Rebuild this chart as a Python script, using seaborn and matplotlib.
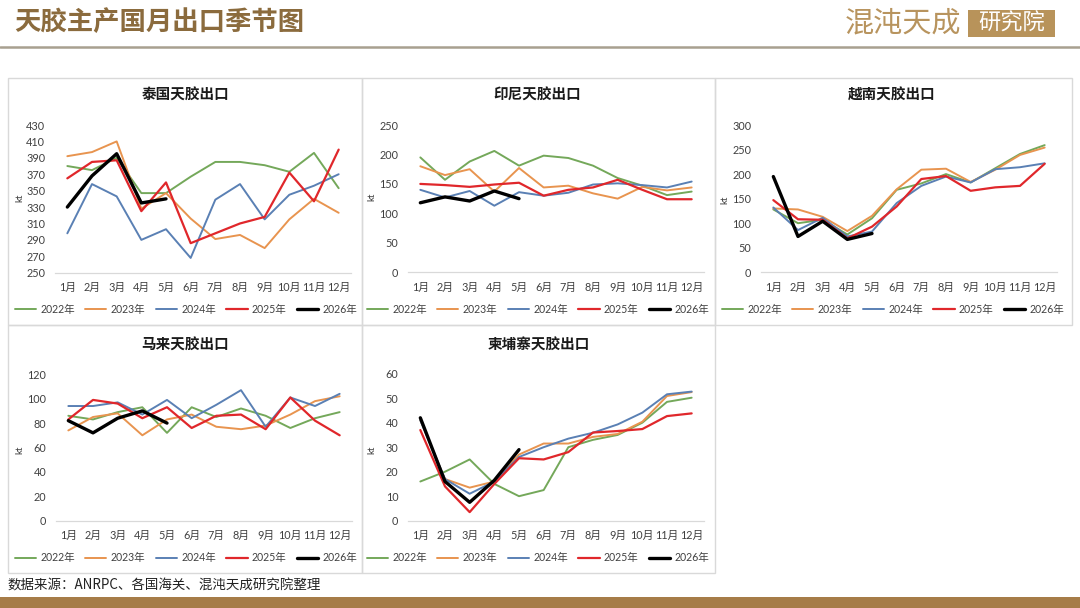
import numpy as np
import pandas as pd
import matplotlib
matplotlib.use("Agg")
import matplotlib.pyplot as plt
from matplotlib.patches import Rectangle
import seaborn as sns

# ---------------- data ----------------
months = ["1月", "2月", "3月", "4月", "5月", "6月", "7月", "8月", "9月", "10月", "11月", "12月"]
years = ["2022年", "2023年", "2024年", "2025年", "2026年"]

thai_2022 = [380, 375, 390, 347, 347, 367, 385, 385, 381, 373, 396, 353]
thai_2023 = [392, 397, 410, 328, 347, 316, 291, 296, 280, 315, 340, 323]
thai_2024 = [298, 358, 343, 290, 303, 268, 339, 358, 315, 345, 356, 370]
thai_2025 = [365, 385, 387, 325, 360, 286, 298, 310, 318, 372, 337, 400]
thai_2026 = [330, 368, 395, 335, 340]

indo_2022 = [195, 157, 188, 206, 181, 198, 194, 181, 160, 147, 131, 137]
indo_2023 = [180, 165, 175, 137, 177, 144, 147, 134, 125, 145, 139, 144]
indo_2024 = [140, 127, 138, 113, 136, 130, 135, 149, 151, 148, 144, 154]
indo_2025 = [150, 148, 145, 149, 152, 130, 140, 144, 157, 140, 124, 124]
indo_2026 = [118, 128, 121, 138, 125]

viet_2022 = [128, 100, 107, 77, 110, 168, 181, 200, 183, 212, 241, 259]
viet_2023 = [130, 128, 113, 84, 115, 169, 209, 211, 184, 209, 239, 254]
viet_2024 = [132, 86, 111, 73, 83, 141, 176, 195, 183, 210, 214, 222]
viet_2025 = [147, 108, 107, 69, 93, 134, 190, 196, 166, 173, 176, 221]
viet_2026 = [195, 73, 104, 67, 79]

mal_2022 = [86, 83, 89, 93, 72, 93, 85, 92, 86, 76, 84, 89]
mal_2023 = [74, 85, 88, 70, 83, 87, 77, 75, 78, 87, 98, 102]
mal_2024 = [94, 94, 97, 87, 99, 84, 95, 107, 77, 101, 94, 104]
mal_2025 = [83, 99, 96, 84, 93, 76, 86, 87, 75, 101, 82, 70]
mal_2026 = [82, 72, 84, 90, 80]

cam_2022 = [16, 20, 25, 15, 10, 12.5, 30, 33, 35, 40, 48.5, 50.2]
cam_2023 = [41, 17, 13.5, 16, 27, 31.5, 31.5, 34.2, 35.4, 40.4, 50.9, 52.5]
cam_2024 = [41, 17, 11, 16, 26, 30, 33.5, 35.9, 39.3, 44.1, 51.6, 52.7]
cam_2025 = [37, 14, 3.5, 15, 25.5, 25, 28, 36, 36.6, 37.4, 42.7, 43.8]
cam_2026 = [42, 16, 7.5, 16.5, 29]

panel_titles = ["泰国天胶出口", "印尼天胶出口", "越南天胶出口", "马来天胶出口", "柬埔寨天胶出口"]
panel_series = [
    [thai_2022, thai_2023, thai_2024, thai_2025, thai_2026],
    [indo_2022, indo_2023, indo_2024, indo_2025, indo_2026],
    [viet_2022, viet_2023, viet_2024, viet_2025, viet_2026],
    [mal_2022, mal_2023, mal_2024, mal_2025, mal_2026],
    [cam_2022, cam_2023, cam_2024, cam_2025, cam_2026],
]
panel_yticks = [
    list(range(250, 431, 20)),
    list(range(0, 251, 50)),
    list(range(0, 301, 50)),
    list(range(0, 121, 20)),
    list(range(0, 61, 10)),
]

colors = ["#74A85A", "#E8944F", "#5A80B4", "#E0272B", "#000000"]
widths = [1.4, 1.4, 1.4, 1.6, 2.4]

# ---------------- figure ----------------
sns.set_theme(style="white")
plt.rcParams["font.family"] = ["Lato", "Noto Sans CJK SC", "DejaVu Sans"]

W, H = 1080, 608
fig = plt.figure(figsize=(W / 100, H / 100), dpi=100)
fig.patch.set_facecolor("white")


def fx(px):
    return px / W


def fy(py):
    return 1 - py / H


# header
fig.text(fx(14), fy(22), "天胶主产国月出口季节图", fontsize=19, color="#8B6B3D",
         fontweight="bold", family=["Noto Sans CJK SC"], va="center", ha="left")
fig.text(fx(845), fy(23), "混沌天成", fontsize=21, color="#B8945E",
         family=["Noto Sans CJK SC"], va="center", ha="left")
fig.add_artist(Rectangle((fx(968), fy(37)), fx(1055) - fx(968), fy(10) - fy(37),
                         transform=fig.transFigure, facecolor="#B8935A", edgecolor="none"))
fig.text(fx(1011.5), fy(23.5), "研究院", fontsize=16, color="white",
         family=["Noto Sans CJK SC"], va="center", ha="center")
fig.add_artist(plt.Line2D([0, 1], [fy(47), fy(47)], color="#A8A090", lw=1.8))

# footer
fig.text(fx(8), fy(586), "数据来源：ANRPC、各国海关、混沌天成研究院整理", fontsize=9.7,
         color="#222222", family=["Noto Sans CJK SC"], va="center", ha="left")
fig.add_artist(Rectangle((0, 0), 1, fy(597), transform=fig.transFigure,
                         facecolor="#A67C48", edgecolor="none"))

# panel boxes (left, top, right, bottom px)
boxes = [(8, 78, 362, 325), (362, 78, 715, 325), (715, 78, 1072, 325),
         (8, 325, 362, 573), (362, 325, 715, 573)]
for (l, t, r, b) in boxes:
    fig.add_artist(Rectangle((fx(l), fy(b)), fx(r) - fx(l), fy(t) - fy(b),
                             transform=fig.transFigure, facecolor="none",
                             edgecolor="#D9D9D9", lw=1.0))

# axes rects (left, top, right, bottom px)
axes_px = [(55, 125, 351, 272.7), (408, 125, 704, 272.3), (761, 125, 1057, 272.3),
           (56, 374.3, 352, 520.7), (408, 373.7, 704, 520.7)]
title_pos = [(186, 95), (537, 95), (892, 95), (185, 345), (539, 345)]
ylabel_pos = [(20, 198), (372, 197), (725, 200), (20, 450), (372, 450)]
legend_pos = [(186, 309), (538, 309), (893, 309), (186, 558), (538, 558)]

xpos = np.arange(1, len(months) + 1)

for i in range(5):
    l, t, r, b = axes_px[i]
    ax = fig.add_axes([fx(l), fy(b), fx(r) - fx(l), fy(t) - fy(b)])
    ax.set_facecolor("none")
    for k, (yr, vals) in enumerate(zip(years, panel_series[i])):
        sns.lineplot(x=xpos[:len(vals)], y=vals, ax=ax, color=colors[k],
                     linewidth=widths[k], label=yr, sort=False)
    yt = panel_yticks[i]
    ax.set_ylim(yt[0], yt[-1])
    ax.set_yticks(yt)
    ax.set_yticklabels([str(v) for v in yt])
    ax.set_xlim(0.5, 12.5)
    ax.set_xticks(xpos)
    ax.set_xticklabels(months)
    ax.tick_params(axis="both", length=0, labelsize=7.8, colors="#404040")
    ax.tick_params(axis="y", pad=7)
    ax.tick_params(axis="x", pad=7)
    for s in ["top", "right", "left"]:
        ax.spines[s].set_visible(False)
    ax.spines["bottom"].set_color("#D9D9D9")
    ax.spines["bottom"].set_linewidth(0.9)
    ax.grid(False)
    ax.set_xlabel("")
    ax.set_ylabel("")
    handles, labels = ax.get_legend_handles_labels()
    ax.legend(handles, labels, loc="center",
              bbox_to_anchor=(fx(legend_pos[i][0]), fy(legend_pos[i][1])),
              bbox_transform=fig.transFigure, ncol=5, frameon=False,
              handlelength=2.0, handletextpad=0.4, columnspacing=1.0,
              fontsize=7.6, labelcolor="#404040")
    fig.text(fx(title_pos[i][0]), fy(title_pos[i][1]), panel_titles[i],
             fontsize=10.5, fontweight="bold", color="#1a1a1a",
             family=["Noto Sans CJK SC"], ha="center", va="center")
    fig.text(fx(ylabel_pos[i][0]), fy(ylabel_pos[i][1]), "kt", fontsize=7,
             color="#404040", rotation=90, ha="center", va="center")

fig.savefig("out.png", dpi=100, facecolor="white")
